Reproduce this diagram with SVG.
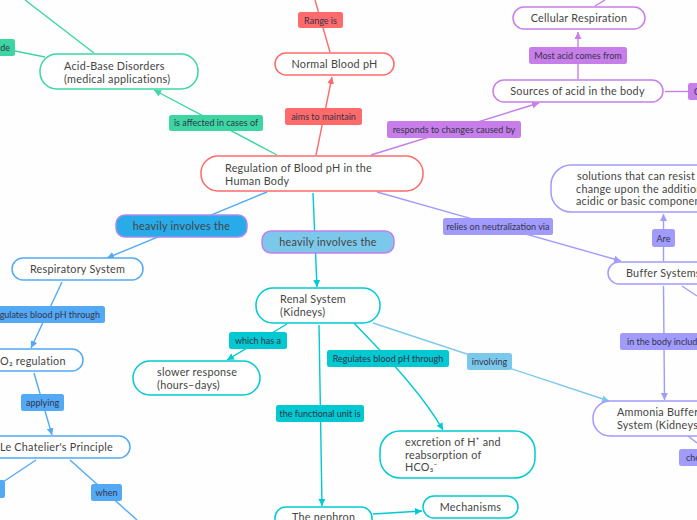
<svg xmlns="http://www.w3.org/2000/svg" width="697" height="520" viewBox="0 0 697 520">
<defs>
<marker id="a-g" markerUnits="userSpaceOnUse" markerWidth="8" markerHeight="7" refX="7" refY="3.500" orient="auto"><path d="M0 0L7 3.500L0 7Z" fill="#3dd6a3"/></marker>
<marker id="a-r" markerUnits="userSpaceOnUse" markerWidth="8" markerHeight="7" refX="7" refY="3.500" orient="auto"><path d="M0 0L7 3.500L0 7Z" fill="#ff6b6b"/></marker>
<marker id="a-p" markerUnits="userSpaceOnUse" markerWidth="8" markerHeight="7" refX="7" refY="3.500" orient="auto"><path d="M0 0L7 3.500L0 7Z" fill="#c77ee8"/></marker>
<marker id="a-v" markerUnits="userSpaceOnUse" markerWidth="8" markerHeight="7" refX="7" refY="3.500" orient="auto"><path d="M0 0L7 3.500L0 7Z" fill="#a29bfe"/></marker>
<marker id="a-b" markerUnits="userSpaceOnUse" markerWidth="8" markerHeight="7" refX="7" refY="3.500" orient="auto"><path d="M0 0L7 3.500L0 7Z" fill="#54a9f5"/></marker>
<marker id="a-c" markerUnits="userSpaceOnUse" markerWidth="8" markerHeight="7" refX="7" refY="3.500" orient="auto"><path d="M0 0L7 3.500L0 7Z" fill="#00c9d1"/></marker>
<marker id="a-l" markerUnits="userSpaceOnUse" markerWidth="8" markerHeight="7" refX="7" refY="3.500" orient="auto"><path d="M0 0L7 3.500L0 7Z" fill="#7cc8ea"/></marker>
</defs>
<style>
text{font-family:"Lato","Noto Sans","Liberation Sans",sans-serif;fill:#444}
.n{font-size:10.8px;letter-spacing:.25px}
.t{font-size:9px;fill:#33334a}
.nb{fill:#fff;stroke-width:1.5}
.c{fill:none;stroke-width:1.4}
.g{stroke:#3dd6a3}.r{stroke:#ff6b6b}.p{stroke:#c77ee8}.v{stroke:#a29bfe}.b{stroke:#54a9f5}.y{stroke:#00c9d1}.l{stroke:#7cc8ea}
</style>
<rect width="697" height="520" fill="#fefefe"/>
<g id="connectors">
<path class="c g" d="M94 53L25 0"/>
<path class="c g" d="M45 57L0 48"/>
<path class="c g" d="M277 155L154 90" marker-end="url(#a-g)"/>
<path class="c r" d="M316 155L332 77" marker-end="url(#a-r)"/>
<path class="c r" d="M330 52L315 0"/>
<path class="c p" d="M371 155L539 103" marker-end="url(#a-p)"/>
<path class="c p" d="M578 79V32" marker-end="url(#a-p)"/>
<path class="c p" d="M595 6L605 0"/>
<path class="c p" d="M665 91.500H697"/>
<path class="c v" d="M377 192L621 261" marker-end="url(#a-v)"/>
<path class="c v" d="M663.500 261V214" marker-end="url(#a-v)"/>
<path class="c v" d="M663.500 286L664.500 400" marker-end="url(#a-v)"/>
<path class="c v" d="M682 286L697 296"/>
<path class="c v" d="M688 436L697 443"/>
<path class="c b" d="M267 192L107 258" marker-end="url(#a-b)"/>
<path class="c y" d="M313 193L317 287" marker-end="url(#a-c)"/>
<path class="c y" d="M319 325L322 506" marker-end="url(#a-c)"/>
<path class="c y" d="M287 324L227 360" marker-end="url(#a-c)"/>
<path class="c y" d="M354 323C385 356 420 390 443 430" marker-end="url(#a-c)"/>
<path class="c l" d="M373 323L609 401" marker-end="url(#a-l)"/>
<path class="c y" d="M373 514L422 511" marker-end="url(#a-c)"/>
<path class="c b" d="M62 282L31 348" marker-end="url(#a-b)"/>
<path class="c b" d="M34 373L52 435" marker-end="url(#a-b)"/>
<path class="c b" d="M36 460L0 484"/>
<path class="c b" d="M70 460L137 520"/>
</g>
<g id="root"><rect class="nb r" x="201" y="156" width="222" height="35" rx="17"/><text class="n" x="225" y="172">Regulation of Blood pH in the</text><text class="n" x="225" y="185">Human Body</text></g>
<g id="normal"><rect class="nb r" x="275" y="53" width="119" height="22" rx="11"/><text class="n" x="334.500" y="68" text-anchor="middle">Normal Blood pH</text></g>
<g id="acidbase"><rect class="nb g" x="40" y="54" width="158" height="35" rx="17"/><text class="n" x="64" y="70">Acid-Base Disorders</text><text class="n" x="64" y="83">(medical applications)</text></g>
<g id="cellular"><rect class="nb p" x="513" y="7" width="132" height="22" rx="11"/><text class="n" x="579" y="22" text-anchor="middle">Cellular Respiration</text></g>
<g id="sources"><rect class="nb p" x="493" y="80" width="170" height="22" rx="11"/><text class="n" x="577.500" y="95" text-anchor="middle">Sources of acid in the body</text></g>
<g id="solutions"><rect class="nb v" x="551" y="165" width="190" height="47" rx="20"/><text class="n" x="577" y="180">solutions that can resist pH</text><text class="n" x="576" y="193">change upon the addition of</text><text class="n" x="576" y="205">acidic or basic components</text></g>
<g id="buffer"><rect class="nb v" x="608" y="262" width="120" height="22" rx="11"/><text class="n" x="626" y="277">Buffer Systems</text></g>
<g id="ammonia"><rect class="nb v" x="593" y="401" width="150" height="35" rx="17"/><text class="n" x="617" y="416">Ammonia Buffer</text><text class="n" x="617" y="429">System (Kidneys)</text></g>
<g id="respiratory"><rect class="nb b" x="12" y="258" width="131" height="22" rx="11"/><text class="n" x="77.500" y="273" text-anchor="middle">Respiratory System</text></g>
<g id="co2"><rect class="nb b" x="-50" y="349" width="133" height="22" rx="11"/><text class="n" x="0" y="365">O₂ regulation</text></g>
<g id="chatelier"><rect class="nb b" x="-30" y="436" width="160" height="22" rx="11"/><text class="n" x="0" y="451">Le Chatelier's Principle</text></g>
<g id="renal"><rect class="nb y" x="256" y="288" width="124" height="35" rx="17"/><text class="n" x="280" y="303">Renal System</text><text class="n" x="280" y="316">(Kidneys)</text></g>
<g id="slower"><rect class="nb y" x="133" y="361" width="127" height="34" rx="17"/><text class="n" x="157" y="376">slower response</text><text class="n" x="157" y="389">(hours–days)</text></g>
<g id="excretion"><rect class="nb y" x="380" y="431" width="155" height="47" rx="20"/><text class="n" x="405" y="446">excretion of H⁺ and</text><text class="n" x="405" y="459">reabsorption of</text><text class="n" x="405" y="471">HCO₃⁻</text></g>
<g id="nephron"><rect class="nb y" x="275" y="507" width="97" height="30" rx="11"/><text class="n" x="292" y="521">The nephron</text></g>
<g id="mechanisms"><rect class="nb y" x="423" y="496" width="95" height="22" rx="11"/><text class="n" x="470.500" y="511" text-anchor="middle">Mechanisms</text></g>
<g id="heavily1"><rect x="116" y="215" width="131" height="22" rx="9" fill="#29abe9" stroke="#a98bf0" stroke-width="1.5"/><text class="n" x="181.500" y="230" text-anchor="middle">heavily involves the</text></g>
<g id="heavily2"><rect x="262" y="231" width="132" height="22" rx="9" fill="#7cc8ea" stroke="#c77ee8" stroke-width="1.5"/><text class="n" x="328" y="246" text-anchor="middle">heavily involves the</text></g>
<g id="lbl-affected"><rect x="169" y="115" width="94" height="16" rx="2.500" fill="#3dd6a3"/><text class="t" x="216" y="126" text-anchor="middle">is affected in cases of</text></g>
<g id="lbl-side"><rect x="-30" y="39" width="45" height="17" rx="2.500" fill="#3dd6a3"/><text class="t" x="10" y="51" text-anchor="end">de</text></g>
<g id="lbl-aims"><rect x="285" y="108" width="77" height="17" rx="2.500" fill="#ff6b6b"/><text class="t" x="323.500" y="119.500" text-anchor="middle">aims to maintain</text></g>
<g id="lbl-range"><rect x="298" y="12" width="45" height="16" rx="2.500" fill="#ff6b6b"/><text class="t" x="320.500" y="23.500" text-anchor="middle">Range is</text></g>
<g id="lbl-responds"><rect x="387" y="121" width="134" height="17" rx="2.500" fill="#c77ee8"/><text class="t" x="454" y="132.500" text-anchor="middle">responds to changes caused by</text></g>
<g id="lbl-most"><rect x="529" y="47" width="98" height="17" rx="2.500" fill="#c77ee8"/><text class="t" x="578" y="58.500" text-anchor="middle">Most acid comes from</text></g>
<g id="lbl-c"><rect x="688" y="83" width="40" height="17" rx="2.500" fill="#c77ee8"/><text class="t" x="694" y="95">C</text></g>
<g id="lbl-relies"><rect x="443" y="218" width="110" height="17" rx="2.500" fill="#a29bfe"/><text class="t" x="498" y="229.500" text-anchor="middle">relies on neutralization via</text></g>
<g id="lbl-are"><rect x="652" y="229" width="23" height="18" rx="2.500" fill="#a29bfe"/><text class="t" x="663.500" y="241.500" text-anchor="middle">Are</text></g>
<g id="lbl-body"><rect x="620" y="333" width="90" height="17" rx="2.500" fill="#a29bfe"/><text class="t" x="627" y="345">in the body include</text></g>
<g id="lbl-che"><rect x="679" y="449" width="40" height="17" rx="2.500" fill="#a29bfe"/><text class="t" x="686" y="461">che</text></g>
<g id="lbl-involving"><rect x="467" y="353" width="45" height="17" rx="2.500" fill="#7cc8ea"/><text class="t" x="489.500" y="364.500" text-anchor="middle">involving</text></g>
<g id="lbl-regr"><rect x="327" y="350" width="122" height="17" rx="2.500" fill="#00c9d1"/><text class="t" x="388" y="362" text-anchor="middle">Regulates blood pH through</text></g>
<g id="lbl-which"><rect x="229" y="332" width="58" height="17" rx="2.500" fill="#00c9d1"/><text class="t" x="258" y="344" text-anchor="middle">which has a</text></g>
<g id="lbl-func"><rect x="276" y="405" width="88" height="17" rx="2.500" fill="#00c9d1"/><text class="t" x="320" y="417" text-anchor="middle">the functional unit is</text></g>
<g id="lbl-regb"><rect x="-17" y="306" width="122" height="17" rx="2.500" fill="#54a9f5"/><text class="t" x="100" y="317.500" text-anchor="end">Regulates blood pH through</text></g>
<g id="lbl-applying"><rect x="21" y="394" width="43" height="17" rx="2.500" fill="#54a9f5"/><text class="t" x="42.500" y="406" text-anchor="middle">applying</text></g>
<g id="lbl-when"><rect x="91" y="484" width="31" height="17" rx="2.500" fill="#54a9f5"/><text class="t" x="106.500" y="496" text-anchor="middle">when</text></g>
<g id="lbl-left"><rect x="-30" y="480" width="35" height="18" rx="2.500" fill="#54a9f5"/></g>
</svg>
